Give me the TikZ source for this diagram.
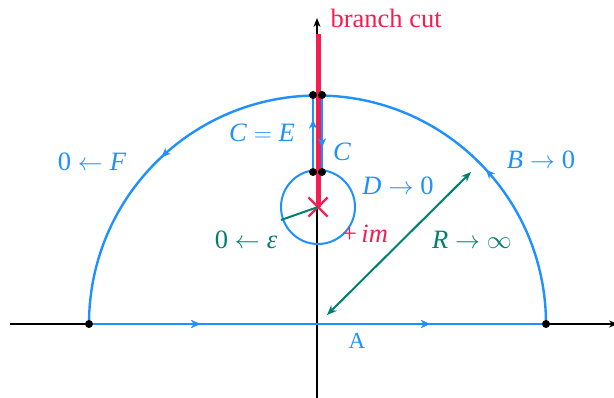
\documentclass[tikz,border=0pt]{standalone}
\usepackage{fontspec}
\setmainfont{Liberation Serif}
\usetikzlibrary{arrows.meta,decorations.markings,shapes.misc}
\definecolor{cblue}{RGB}{30,144,255}
\definecolor{cred}{RGB}{245,30,80}
\definecolor{cteal}{RGB}{0,128,110}
\begin{document}
\begin{tikzpicture}[x=1pt,y=-1pt,
  axis/.style={line width=2.2pt,black,-{Stealth[length=9pt,width=7pt]}},
  contour/.style={line width=2.4pt,cblue},
  markat/.style={decoration={markings,mark=at position #1 with {\arrow{Stealth[length=9pt,width=8pt]}}},postaction=decorate},
  dot/.style={circle,fill=black,inner sep=0pt,minimum size=8pt},
  lbl/.style={font=\fontsize{26.5}{30}\selectfont},
  blbl/.style={lbl,text=cblue},
  tlbl/.style={lbl,text=cteal}]
\useasboundingbox (0,0) rectangle (614,398);
% axes
\coordinate (xl) at (10,324);
\coordinate (xr) at (618,324);
\coordinate (yb) at (317,400);
\coordinate (yt) at (317,18);
\draw[axis] (xl) -- (xr);
\draw[axis] (yb) -- (yt);
% points
\coordinate (O) at (317,324);
\coordinate (P) at (318,207);
\coordinate (Lx) at (89,324);
\coordinate (Rx) at (546,324);
\coordinate (TL) at (313,95);
\coordinate (TR) at (322,95);
\coordinate (BL) at (313,172);
\coordinate (BR) at (322,172);
% contour
\draw[contour,markat=0.243,decoration={markings,mark=at position 0.746 with {\arrow{Stealth[length=9pt,width=8pt]}}},postaction=decorate] (Lx) -- (Rx);
\draw[contour,decoration={markings,
   mark=at position 0.236 with {\arrow{Stealth[length=9pt,width=8pt]}},
   mark=at position 0.739 with {\arrow{Stealth[length=9pt,width=8pt]}}},postaction=decorate]
   (Rx) arc[start angle=0,end angle=-180,radius=228.5];
\draw[contour,line width=2pt] (P) circle[radius=37];
% branch cut
\coordinate (bc) at (318,34);
\draw[cred,line width=5pt] (bc) -- (P);
\draw[contour,markat=0.68] (BL) -- (TL);
\draw[contour,markat=0.68] (TR) -- (BR);
\node[cred,draw,cross out,line width=2.2pt,minimum size=17pt,inner sep=0pt] (X) at (P) {};
% radius
\coordinate (E) at (281,220);
\draw[cteal,line width=2pt] (P) -- (E);
\coordinate (R1) at (327,315);
\coordinate (R2) at (471,172);
\draw[cteal,line width=2pt,{Stealth[length=10pt,width=8pt]}-{Stealth[length=10pt,width=8pt]}] (R1) -- (R2);
% dots
\foreach \p in {Lx,Rx,TL,TR,BL,BR} \node[dot] at (\p) {};
% labels
\node[lbl,text=cred,anchor=west] (bcl) at (327,18) {branch cut};
\node[blbl] (lF) at (92,162) {0${}\leftarrow{}$\textit{F}};
\node[blbl] (lCE) at (262,133) {\textit{C}${}={}$\textit{E}};
\node[blbl] (lC) at (342,152) {\textit{C}};
\node[blbl] (lD) at (398,186) {\textit{D}${}\rightarrow{}$0};
\node[blbl] (lB) at (541,160) {\textit{B}${}\rightarrow{}$0};
\node[tlbl] (le) at (246,240) {0${}\leftarrow{}$\textit{ε}};
\node[lbl,text=cred] (lim) at (365,234) {+\,\textit{im}};
\node[tlbl] (lR) at (472,240) {\textit{R}${}\rightarrow\infty$};
\node[lbl,text=cblue,font=\fontsize{23}{26}\selectfont] (lA) at (357,341) {A};
\end{tikzpicture}
\end{document}
